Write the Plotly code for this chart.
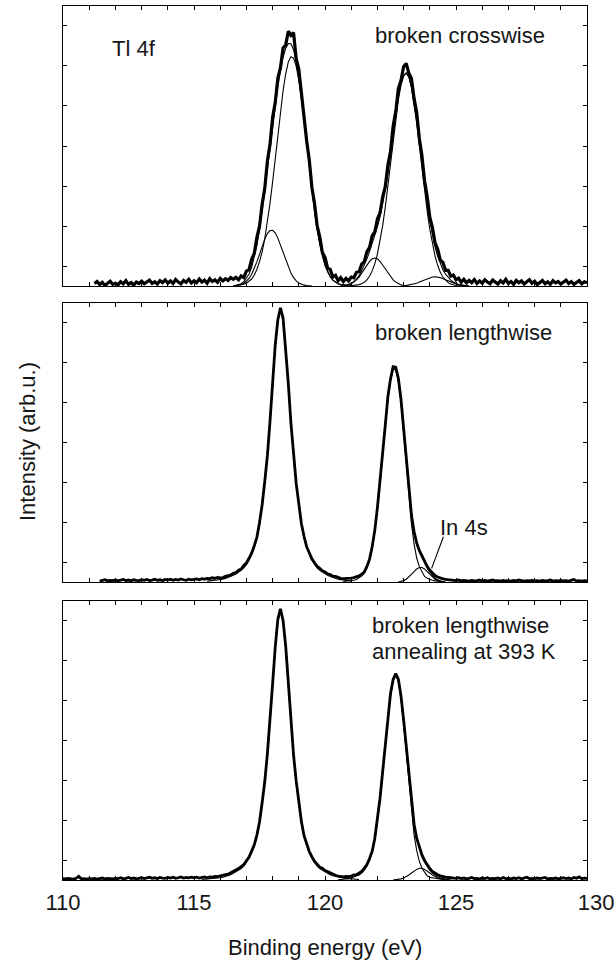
import plotly.graph_objects as go

# ---------------- data (intensity in arb. u., binding energy in eV, step 0.1 eV) ----------------
STEP = 0.1

# Panel 1: broken crosswise
p1_exp_start = 111.2
p1_exp = [0.9, 1.6, 0.5, 1.3, 0.2, 1.1, 1.7, 0.6,
          1.0, 0.4, 1.5, 0.8, 1.9, 0.6, 1.2, 0.3, 1.4, 0.9,
          1.7, 0.8, 1.3, 2.1, 0.9, 1.5, 0.7, 1.9, 1.2, 2.2,
          1.0, 1.8, 0.9, 2.3, 1.4, 0.8, 2.0, 1.3, 2.4, 1.1,
          1.9, 1.2, 2.5, 1.4, 2.1, 1.0, 2.6, 1.6, 2.2, 1.3,
          2.7, 1.8, 2.6, 2.0, 3.0, 2.4, 3.1, 2.2, 3.6, 3.0,
          5.3, 5.8, 9.5, 11.6, 17.4, 21.3, 29.2, 34.8, 44.6, 50.5,
          60.2, 65.5, 74.3, 78.0, 85.0, 86.1, 91.0, 89.5, 90.5, 81.2,
          77.4, 68.6, 62.5, 51.9, 45.0, 35.2, 29.5, 21.6, 17.6, 12.0,
          10.2, 6.4, 5.9, 3.2, 3.8, 1.9, 3.0, 1.6, 2.7, 1.8,
          3.2, 2.9, 4.9, 5.1, 7.8, 8.7, 12.3, 13.8, 17.9, 19.3,
          23.9, 26.1, 31.8, 35.5, 43.1, 48.0, 57.1, 62.3, 70.5, 73.4,
          78.3, 79.5, 76.0, 74.1, 67.0, 62.0, 52.8, 46.5, 37.5, 32.0,
          24.6, 20.9, 15.4, 13.2, 9.3, 8.4, 5.6, 5.6, 3.5, 3.9,
          2.2, 2.8, 1.3, 2.4, 1.1, 2.0, 1.2, 2.3, 0.9, 1.8,
          1.0, 2.2, 1.4, 0.8, 2.1, 1.3, 0.7, 1.9, 1.1, 2.4,
          0.9, 1.6, 0.6, 2.0, 1.2, 1.8, 0.7, 1.5, 2.2, 1.0,
          1.7, 0.5, 1.3, 2.0, 0.8, 1.5, 0.6, 1.9, 1.1, 1.6,
          0.7, 1.4, 2.1, 0.9, 1.6, 0.6, 1.3, 1.9, 0.8, 1.5,
          1.2]
p1_env_start = 116.5
p1_env = [0.0, 0.2, 0.5, 0.8, 1.5, 2.7, 4.3, 6.7, 10.1, 14.5,
          20.0, 26.3, 33.5, 41.5, 49.3, 57.0, 64.4, 71.1, 76.9, 81.7,
          84.9, 86.6, 86.5, 84.4, 80.3, 74.6, 67.5, 59.3, 50.8, 42.2,
          33.9, 26.6, 20.3, 14.9, 10.7, 7.5, 5.1, 3.3, 2.1, 1.3,
          0.8, 0.5, 0.4, 0.35, 0.5, 0.9, 1.5, 2.5, 3.7, 5.4,
          7.4, 9.7, 12.3, 15.1, 17.9, 21.1, 24.7, 29.0, 34.2, 40.2,
          46.8, 54.0, 61.1, 67.3, 72.2, 75.2, 76.1, 74.9, 71.2, 65.9,
          59.2, 51.6, 43.8, 36.2, 29.3, 23.3, 18.2, 14.0, 10.6, 7.9,
          5.8, 4.2, 3.0, 2.1, 1.4, 0.9, 0.5, 0.3, 0.2, 0.1,
          0.0]
p1_a_start = 116.5
p1_a = [0.0, 0.1, 0.2, 0.3, 0.6, 1.0, 1.6, 2.5, 3.9, 5.9,
        8.7, 12.2, 16.8, 22.8, 29.5, 37.1, 45.4, 54.0, 62.3, 69.8,
        75.8, 80.0, 81.9, 81.4, 78.5, 73.5, 66.9, 59.0, 50.6, 42.1,
        33.9, 26.6, 20.3, 14.9, 10.7, 7.5, 5.1, 3.3, 2.1, 1.3,
        0.8, 0.5, 0.3, 0.15, 0.1, 0.0]
p1_b_start = 116.5
p1_b = [0.0, 0.1, 0.3, 0.5, 0.9, 1.7, 2.7, 4.2, 6.2, 8.6,
        11.3, 14.1, 16.7, 18.7, 19.8, 19.9, 19.0, 17.1, 14.6, 11.9,
        9.1, 6.6, 4.6, 3.0, 1.8, 1.1, 0.6, 0.3, 0.15, 0.1, 0.0]
p1_c_start = 120.9
p1_c = [0.0, 0.1, 0.1, 0.3, 0.5, 0.8, 1.3,
        2.2, 3.5, 5.4, 7.9, 11.4,
        15.9, 21.5, 28.1, 35.6, 43.6,
        51.8, 59.7, 66.5, 71.8, 75.0,
        76.0, 74.6, 70.8, 65.2, 58.2,
        50.2, 42.0, 34.0, 26.7, 20.3,
        15.0, 10.7, 7.4, 4.9, 3.2,
        2.0, 1.2, 0.7, 0.4, 0.2,
        0.1, 0.0]
p1_d_start = 120.6
p1_d = [0.0, 0.1, 0.2, 0.4, 0.8, 1.4, 2.2, 3.2, 4.6, 6.1,
        7.5, 8.8, 9.7, 10.0, 9.7, 8.8, 7.5, 6.1, 4.6, 3.2,
        2.2, 1.4, 0.8, 0.4, 0.2, 0.1, 0.0]
p1_e_start = 123.0
p1_e = [0.0, 0.2, 0.3, 0.4, 0.7, 1.0, 1.4, 1.8, 2.2, 2.6,
        3.0, 3.2, 3.3, 3.2, 3.0, 2.6, 2.2, 1.8, 1.4, 1.0,
        0.7, 0.4, 0.3, 0.2, 0.1, 0.0]

# Panel 2: broken lengthwise
p2_exp_start = 111.4
p2_exp = [0.3, 0.5, 0.8, 0.4, 0.6, 0.5,
          0.7, 0.4, 0.6, 0.9, 0.5, 0.7, 0.4, 0.8, 0.6, 0.5,
          0.8, 0.6, 0.9, 0.5, 0.7, 1.0, 0.6, 0.8, 0.5, 0.9,
          0.7, 1.0, 0.6, 0.9, 0.7, 1.1, 0.8, 0.6, 1.0, 0.8,
          0.9, 1.1, 0.8, 1.2, 1.0, 1.3, 1.2, 1.5, 1.3, 1.6,
          1.5, 1.6, 2.0, 2.2, 2.5, 3.1, 3.4, 4.2, 4.7, 5.9,
          6.8, 8.5, 10.3, 13.0, 16.0, 21.3, 27.6, 36.0, 45.2, 57.5,
          70.5, 84.9, 94.0, 98.3, 94.6, 84.2, 71.1, 56.9, 45.8, 35.4,
          28.1, 20.9, 16.4, 12.6, 10.5, 8.3, 6.9, 5.6, 4.9, 4.0,
          3.6, 2.9, 2.7, 2.1, 2.0, 1.5, 1.3, 1.2, 1.2, 1.3,
          1.4, 1.6, 1.8, 2.2, 2.8, 3.6, 5.6, 8.2, 12.6, 18.5,
          26.6, 35.4, 46.3, 56.1, 66.4, 72.8, 77.2, 77.0, 73.0, 65.5,
          55.0, 44.0, 33.0, 24.0, 18.0, 14.0, 11.3, 9.2, 7.3, 5.6,
          4.2, 3.1, 2.3, 1.8, 1.4, 1.1, 0.9, 0.8, 0.7, 0.6,
          0.5, 0.7, 0.4, 0.6, 0.5, 0.3, 0.6, 0.4, 0.5, 0.7,
          0.4, 0.6, 0.3, 0.5, 0.7, 0.4, 0.5, 0.3, 0.6, 0.4,
          0.5, 0.3, 0.6, 0.4, 0.7, 0.5, 0.3, 0.5, 0.4, 0.6,
          0.4, 0.5, 0.3, 0.6, 0.4, 0.5, 0.7, 0.3, 0.5, 0.4,
          0.6, 0.4, 0.5, 0.3, 0.5, 0.9, 0.4, 0.5, 0.3, 0.5,
          0.4]
p2_f72_start = 115.5
p2_f72 = [0.3, 0.4, 0.5, 0.6, 0.7,
          0.8, 1.0, 1.3, 1.6, 2.0, 2.4, 2.9, 3.5, 4.2, 5.1,
          6.2, 7.8, 9.8, 12.2, 15.6, 20.5, 27.3, 35.1, 44.9, 56.6,
          70.2, 83.9, 93.6, 97.5, 93.6, 83.9, 70.2, 56.6, 44.9, 35.1,
          27.3, 20.5, 15.6, 12.2, 9.8, 7.8, 6.2, 5.1, 4.2, 3.5,
          2.9, 2.4, 2.0, 1.6, 1.3, 1.0, 0.85, 0.7, 0.6, 0.5,
          0.4]
p2_f52_start = 120.7
p2_f52 = [0.2, 0.27, 0.35, 0.46, 0.65, 0.9, 1.4, 2.1, 3.1, 4.9,
          7.7, 11.9, 18.1, 25.8, 35.0, 45.4, 55.8, 65.5, 72.4, 76.2,
          76.2, 72.2, 64.7, 54.0, 42.5, 30.8, 20.8, 13.6, 8.6, 5.5,
          3.5, 2.0, 1.3, 0.9, 0.6, 0.4, 0.3, 0.2, 0.1, 0.0]
p2_in4s_start = 122.8
p2_in4s = [0.0, 0.2, 0.5, 1.0, 1.7, 2.7, 3.7, 4.7, 5.2, 5.2,
           4.7, 3.7, 2.7, 1.7, 1.0, 0.5, 0.2, 0.0]
p2_env_start = 122.5
p2_env = [72.4, 76.2, 76.2, 72.2, 64.9, 54.5, 43.5, 32.5, 23.5, 17.3,
          13.3, 10.7, 8.7, 6.7, 5.0, 3.6, 2.3, 1.4, 0.8, 0.4,
          0.1, 0.0]

# Panel 3: broken lengthwise, annealing at 393 K
p3_exp_start = 110.0
p3_exp = [0.5, 0.4, 0.6, 0.5, 0.3, 0.6, 1.3, 0.4, 0.5, 0.3,
          0.5, 0.4, 0.6, 0.3, 0.5, 0.7, 0.4, 0.6, 0.5, 0.4,
          0.6, 0.5, 0.8, 0.4, 0.6, 0.9, 0.5, 0.7, 0.4, 0.6,
          0.8, 0.5, 0.7, 1.0, 0.6, 0.8, 0.5, 0.9, 0.7, 0.6,
          0.9, 0.7, 1.0, 0.6, 0.8, 1.1, 0.7, 0.9, 0.8, 1.0,
          0.8, 1.0, 0.7, 0.9, 1.1, 0.8, 1.1, 1.0, 1.3, 1.2,
          1.5, 1.6, 1.9, 2.1, 2.6, 2.9, 3.6, 4.1, 4.8, 5.5,
          6.9, 8.2, 10.4, 12.6, 16.1, 20.8, 27.7, 35.2, 45.1, 56.5,
          70.3, 83.4, 93.5, 97.2, 93.0, 83.8, 69.9, 56.8, 44.8, 35.5,
          27.4, 21.0, 15.9, 12.8, 10.2, 8.4, 6.7, 5.7, 4.6, 4.2,
          3.4, 3.0, 2.5, 2.0, 1.7, 1.4, 1.3, 1.1, 1.3, 1.2,
          1.4, 1.8, 1.9, 2.5, 3.1, 4.2, 5.5, 7.7, 10.3, 14.9,
          21.2, 29.3, 38.8, 49.1, 58.7, 66.8, 71.9, 74.0, 72.0, 66.0,
          57.5, 47.5, 37.5, 28.0, 20.0, 15.0, 11.5, 9.0, 7.0, 5.4,
          4.1, 3.1, 2.4, 1.9, 1.5, 1.2, 1.0, 0.9, 0.8, 0.7,
          0.6, 0.8, 0.5, 0.7, 0.4, 0.6, 0.9, 0.5, 0.6, 0.4,
          0.7, 0.5, 0.8, 0.4, 0.6, 0.5, 0.7, 0.4, 0.9, 0.5,
          0.6, 0.4, 0.7, 0.5, 0.8, 0.4, 0.6, 1.0, 0.5, 0.6,
          0.4, 0.7, 0.5, 0.6, 0.9, 0.4, 0.6, 0.5, 0.7, 0.4,
          0.6, 0.8, 0.5, 0.7, 0.4, 0.9, 0.6, 1.1, 0.5, 0.7,
          0.6]
p3_f72_start = 115.3
p3_f72 = [0.2, 0.25, 0.3, 0.4, 0.5, 0.6, 0.7, 0.8, 1.0, 1.25,
          1.5, 1.9, 2.4, 2.9, 3.5, 4.1, 5.0, 6.2, 7.7, 9.7,
          12.1, 15.4, 20.3, 27.0, 34.7, 44.4, 56.0, 69.5, 83.0, 92.6,
          96.5, 92.6, 83.0, 69.5, 56.0, 44.4, 34.7, 27.0, 20.3, 15.4,
          12.1, 9.7, 7.7, 6.2, 5.0, 4.1, 3.5, 2.9, 2.4, 1.9,
          1.5, 1.25, 1.0, 0.8, 0.7, 0.6, 0.5, 0.4, 0.3, 0.25,
          0.2]
p3_f52_start = 120.5
p3_f52 = [0.1, 0.15, 0.25, 0.35, 0.5, 0.7, 1.0, 1.3, 1.8, 2.5,
          3.5, 5.0, 7.0, 9.8, 14.2, 20.6, 28.7, 38.2, 48.5, 58.1,
          66.2, 71.3, 73.4, 71.2, 65.0, 56.2, 45.7, 35.1, 24.9, 16.1,
          10.6, 6.7, 4.2, 2.6, 1.5, 1.0, 0.7, 0.6, 0.45, 0.35,
          0.25, 0.2, 0.1, 0.0]
p3_in4s_start = 122.6
p3_in4s = [0.0, 0.1, 0.2, 0.4, 0.75, 1.2, 1.8, 2.5, 3.3, 3.8,
           4.2, 4.2, 3.8, 3.3, 2.5, 1.8, 1.2, 0.75, 0.4, 0.2,
           0.1, 0.0]
p3_env_start = 122.5
p3_env = [66.2, 71.3, 73.5, 71.4, 65.4, 57.0, 46.9, 36.9, 27.4, 19.4,
          14.4, 10.9, 8.4, 6.4, 4.8, 3.5, 2.5, 1.8, 1.2, 0.75,
          0.45, 0.3, 0.1, 0.0]

x_tick_values = list(range(110, 131))
x_tick_labels = {110: "110", 115: "115", 120: "120", 125: "125", 130: "\u00a0\u00a0\u00a0130"}
y_tick_values = [7.1, 21.4, 35.7, 50.0, 64.3, 78.6, 92.9]

panel_labels = ["broken crosswise", "broken lengthwise", "broken lengthwise", "annealing at 393 K"]
element_label = "Tl 4f"
in4s_label = "In 4s"
# In 4s leader line (binding energy, intensity) in panel 2
in4s_leader = [(124.52, 16.2), (124.07, 4.9)]


def energies(start, n):
    return [round(start + STEP * i, 2) for i in range(n)]


# ---------------- figure ----------------
W, H = 616, 963
FONT = "Liberation Sans, Arial, Helvetica, sans-serif"
TXT = "#161616"

x_dom = [63 / W, 587 / W]
y_doms = [
    [1 - 286 / H, 1 - 6 / H],
    [1 - 582 / H, 1 - 303 / H],
    [1 - 880 / H, 1 - 601 / H],
]

fig = go.Figure()

EXP_W = [3.2, 2.8, 2.8]
THIN_W = 1.1

panels = [
    (p1_exp_start, p1_exp, [(p1_a_start, p1_a), (p1_b_start, p1_b), (p1_c_start, p1_c),
                            (p1_d_start, p1_d), (p1_e_start, p1_e), (p1_env_start, p1_env)]),
    (p2_exp_start, p2_exp, [(p2_f72_start, p2_f72), (p2_f52_start, p2_f52),
                            (p2_in4s_start, p2_in4s), (p2_env_start, p2_env)]),
    (p3_exp_start, p3_exp, [(p3_f72_start, p3_f72), (p3_f52_start, p3_f52),
                            (p3_in4s_start, p3_in4s), (p3_env_start, p3_env)]),
]

for i, (es, ev, comps) in enumerate(panels):
    xa = "x" if i == 0 else f"x{i+1}"
    ya = "y" if i == 0 else f"y{i+1}"
    fig.add_trace(go.Scatter(x=energies(es, len(ev)), y=ev, mode="lines",
                             line=dict(color="black", width=EXP_W[i]),
                             xaxis=xa, yaxis=ya, showlegend=False, hoverinfo="skip"))
    for cs, cv in comps:
        fig.add_trace(go.Scatter(x=energies(cs, len(cv)), y=cv, mode="lines",
                                 line=dict(color="black", width=THIN_W),
                                 xaxis=xa, yaxis=ya, showlegend=False, hoverinfo="skip"))

axis_common = dict(showline=True, linecolor="black", linewidth=1, mirror="ticks",
                   ticks="inside", tickcolor="black", tickwidth=1, ticklen=4,
                   showgrid=False, zeroline=False, fixedrange=True, automargin=False)

layout = dict(width=W, height=H, margin=dict(l=0, r=0, t=0, b=0, pad=0, autoexpand=False),
              paper_bgcolor="white", plot_bgcolor="white", showlegend=False,
              font=dict(family=FONT, color=TXT))

for i in range(3):
    xk = "xaxis" if i == 0 else f"xaxis{i+1}"
    yk = "yaxis" if i == 0 else f"yaxis{i+1}"
    ya_ref = "y" if i == 0 else f"y{i+1}"
    xa_ref = "x" if i == 0 else f"x{i+1}"
    xa = dict(axis_common, domain=x_dom, range=[110, 130], anchor=ya_ref,
              tickmode="array", tickvals=x_tick_values)
    if i == 2:
        xa.update(ticktext=[x_tick_labels.get(v, "") for v in x_tick_values],
                  showticklabels=True, tickfont=dict(size=22, family=FONT, color=TXT),
                  ticklabelstandoff=3, ticklabeloverflow="allow")
    else:
        xa.update(showticklabels=False)
    layout[xk] = xa
    layout[yk] = dict(axis_common, domain=y_doms[i], range=[0, 100], anchor=xa_ref,
                      tickmode="array", tickvals=y_tick_values, showticklabels=False)

fig.update_layout(**layout)


def px_x(px):
    return px / W


def px_y(py):
    return 1 - py / H


ann = [
    dict(text=element_label, x=px_x(110), y=px_y(48), xanchor="left", yanchor="middle"),
    dict(text=panel_labels[0], x=px_x(373), y=px_y(35), xanchor="left", yanchor="middle"),
    dict(text=panel_labels[1], x=px_x(373), y=px_y(333), xanchor="left", yanchor="middle"),
    dict(text=in4s_label, x=px_x(438), y=px_y(527), xanchor="left", yanchor="middle"),
    dict(text=panel_labels[2], x=px_x(370), y=px_y(625), xanchor="left", yanchor="middle"),
    dict(text=panel_labels[3], x=px_x(370), y=px_y(651), xanchor="left", yanchor="middle"),
    dict(text="Binding energy (eV)", x=px_x(325), y=px_y(947), xanchor="center", yanchor="middle"),
    dict(text="Intensity (arb.u.)", x=px_x(27), y=px_y(442), xanchor="center", yanchor="middle",
         textangle=-90),
]
for a in ann:
    a.update(xref="paper", yref="paper", showarrow=False,
             font=dict(size=22, family=FONT, color=TXT))
    fig.add_annotation(**a)

fig.add_shape(type="line", xref="x2", yref="y2",
              x0=in4s_leader[0][0], y0=in4s_leader[0][1],
              x1=in4s_leader[1][0], y1=in4s_leader[1][1],
              line=dict(color="black", width=1.1))

fig.write_html("out.html")
